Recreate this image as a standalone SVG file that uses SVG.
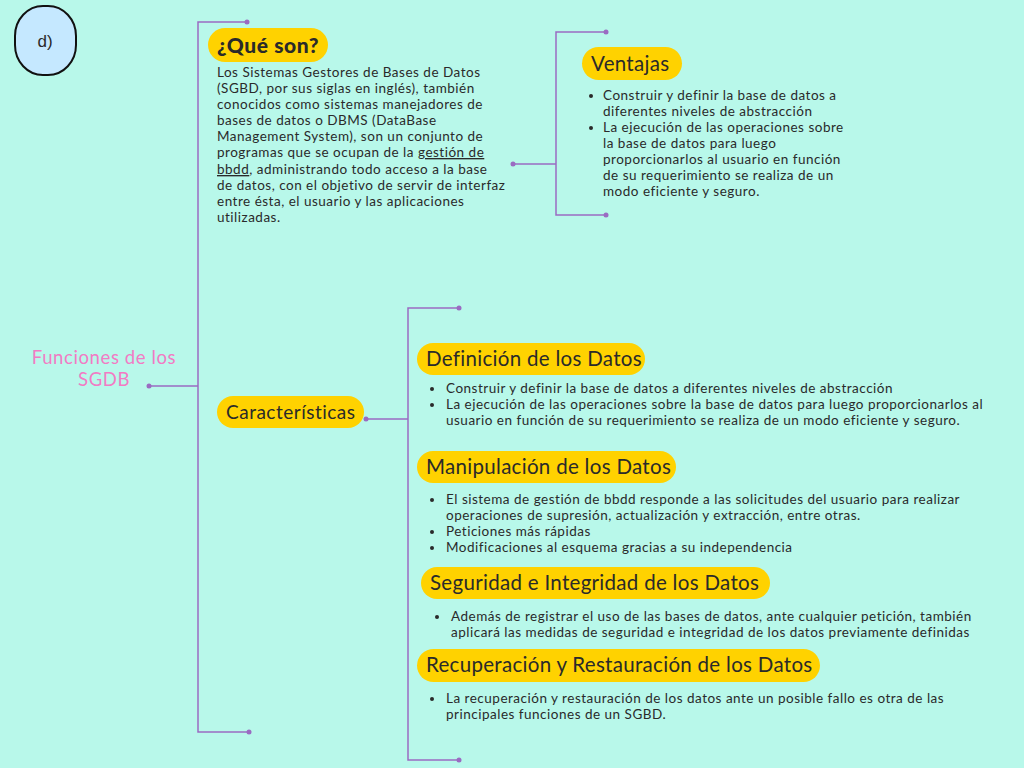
<svg xmlns="http://www.w3.org/2000/svg" width="1024" height="768" viewBox="0 0 1024 768">
<style>
.bg{fill:#b8f8ea}
.ln{fill:none;stroke:#9a6bc2;stroke-width:1.5}
.dot{fill:#9a6bc2}
.pill{fill:#ffd200}
.t{font-family:Lato,"Open Sans",sans-serif;fill:#2a2a2a}
.h{font-size:20.5px;letter-spacing:0.3px}
.b{font-size:13.5px;letter-spacing:0.5px}
.bul{fill:#2a2a2a}
</style>
<rect class="bg" x="0" y="0" width="1024" height="768"/>
<g id="connectors">
  <path class="ln" d="M247,22 H198 V732 H249"/>
  <path class="ln" d="M149,386 H198"/>
  <path class="ln" d="M513,164 H556"/>
  <path class="ln" d="M606,32 H556 V215 H606"/>
  <path class="ln" d="M366,419 H408"/>
  <path class="ln" d="M459,308 H408 V760 H459"/>
  <circle class="dot" cx="247" cy="22" r="2.5"/>
  <circle class="dot" cx="249" cy="732" r="2.5"/>
  <circle class="dot" cx="149" cy="386" r="2.5"/>
  <circle class="dot" cx="513" cy="164" r="2.5"/>
  <circle class="dot" cx="606" cy="32" r="2.5"/>
  <circle class="dot" cx="606" cy="215" r="2.5"/>
  <circle class="dot" cx="366" cy="419" r="2.5"/>
  <circle class="dot" cx="459" cy="308" r="2.5"/>
  <circle class="dot" cx="459" cy="760" r="2.5"/>
</g>
<g id="label-d">
  <rect x="15" y="6" width="61" height="69" rx="28" ry="30" fill="#c5e8ff" stroke="#111" stroke-width="2"/>
  <text class="t" x="45" y="47" font-size="17" text-anchor="middle" fill="#111" style="font-family:'Liberation Sans',Arial,sans-serif">d)</text>
</g>
<g id="root">
  <text class="t" font-size="18.5" letter-spacing="0.6" text-anchor="middle" style="fill:#f27bc4"><tspan x="104" y="364">Funciones de los</tspan><tspan x="104" y="386">SGDB</tspan></text>
</g>
<g id="que-son">
  <rect class="pill" x="208" y="28" width="120" height="34" rx="17"/>
  <text class="t" x="217" y="53" font-size="21" letter-spacing="0.6" font-weight="900" fill="#1a1a1a">¿Qué son?</text>
  <text class="t b"><tspan x="217" y="77">Los Sistemas Gestores de Bases de Datos</tspan><tspan x="217" y="93">(SGBD, por sus siglas en inglés), también</tspan><tspan x="217" y="109">conocidos como sistemas manejadores de</tspan><tspan x="217" y="125">bases de datos o DBMS (DataBase</tspan><tspan x="217" y="141">Management System), son un conjunto de</tspan><tspan x="217" y="157">programas que se ocupan de la </tspan><tspan text-decoration="underline">gestión de</tspan><tspan x="217" y="174" text-decoration="underline">bbdd</tspan><tspan>, administrando todo acceso a la base</tspan><tspan x="217" y="190">de datos, con el objetivo de servir de interfaz</tspan><tspan x="217" y="206">entre ésta, el usuario y las aplicaciones</tspan><tspan x="217" y="222">utilizadas.</tspan></text>
</g>
<g id="ventajas">
  <rect class="pill" x="582" y="47" width="100" height="33" rx="16.5"/>
  <text class="t h" x="591" y="71" letter-spacing="0.9">Ventajas</text>
  <circle class="bul" cx="591" cy="96" r="2"/>
  <circle class="bul" cx="591" cy="128" r="2"/>
  <text class="t b"><tspan x="603" y="100">Construir y definir la base de datos a</tspan><tspan x="603" y="116">diferentes niveles de abstracción</tspan><tspan x="603" y="132">La ejecución de las operaciones sobre</tspan><tspan x="603" y="148">la base de datos para luego</tspan><tspan x="603" y="164">proporcionarlos al usuario en función</tspan><tspan x="603" y="180">de su requerimiento se realiza de un</tspan><tspan x="603" y="196">modo eficiente y seguro.</tspan></text>
</g>
<g id="caracteristicas">
  <rect class="pill" x="217" y="396" width="147" height="32" rx="16"/>
  <text class="t" x="226" y="419" font-size="19" letter-spacing="0.5">Características</text>
</g>
<g id="definicion">
  <rect class="pill" x="417" y="343" width="228" height="32" rx="16"/>
  <text class="t h" x="426" y="366">Definición de los Datos</text>
  <circle class="bul" cx="432" cy="389" r="2"/>
  <circle class="bul" cx="432" cy="405" r="2"/>
  <text class="t b"><tspan x="446" y="393">Construir y definir la base de datos a diferentes niveles de abstracción</tspan><tspan x="446" y="409">La ejecución de las operaciones sobre la base de datos para luego proporcionarlos al</tspan><tspan x="446" y="425">usuario en función de su requerimiento se realiza de un modo eficiente y seguro.</tspan></text>
</g>
<g id="manipulacion">
  <rect class="pill" x="417" y="451" width="259" height="32" rx="16"/>
  <text class="t h" x="426" y="474">Manipulación de los Datos</text>
  <circle class="bul" cx="432" cy="500" r="2"/>
  <circle class="bul" cx="432" cy="532" r="2"/>
  <circle class="bul" cx="432" cy="548" r="2"/>
  <text class="t b"><tspan x="446" y="504">El sistema de gestión de bbdd responde a las solicitudes del usuario para realizar</tspan><tspan x="446" y="520">operaciones de supresión, actualización y extracción, entre otras.</tspan><tspan x="446" y="536">Peticiones más rápidas</tspan><tspan x="446" y="552">Modificaciones al esquema gracias a su independencia</tspan></text>
</g>
<g id="seguridad">
  <rect class="pill" x="421" y="567" width="349" height="32" rx="16"/>
  <text class="t h" x="430" y="590">Seguridad e Integridad de los Datos</text>
  <circle class="bul" cx="437" cy="617" r="2"/>
  <text class="t b"><tspan x="451" y="621">Además de registrar el uso de las bases de datos, ante cualquier petición, también</tspan><tspan x="451" y="637">aplicará las medidas de seguridad e integridad de los datos previamente definidas</tspan></text>
</g>
<g id="recuperacion">
  <rect class="pill" x="417" y="649" width="403" height="33" rx="16.5"/>
  <text class="t h" x="426" y="672">Recuperación y Restauración de los Datos</text>
  <circle class="bul" cx="432" cy="699" r="2"/>
  <text class="t b"><tspan x="446" y="703">La recuperación y restauración de los datos ante un posible fallo es otra de las</tspan><tspan x="446" y="719">principales funciones de un SGBD.</tspan></text>
</g>
</svg>
